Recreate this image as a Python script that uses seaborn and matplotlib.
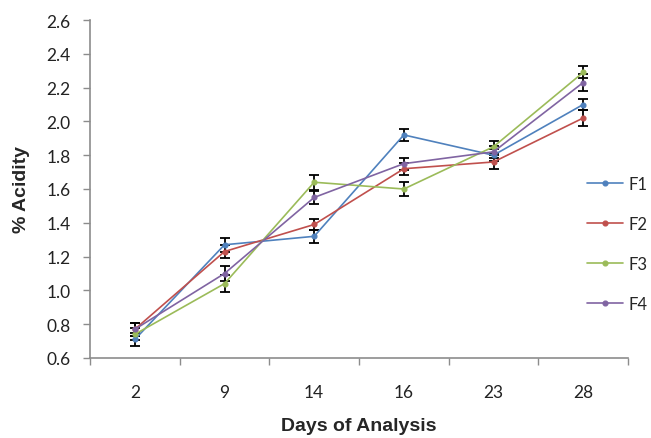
import matplotlib
matplotlib.use("Agg")
import matplotlib.pyplot as plt
import seaborn as sns
import pandas as pd
import numpy as np

days = [2, 9, 14, 16, 23, 28]
series_names = ["F1", "F2", "F3", "F4"]
f1 = [0.71, 1.27, 1.32, 1.92, 1.80, 2.10]
f2 = [0.77, 1.23, 1.39, 1.72, 1.76, 2.02]
f3 = [0.74, 1.04, 1.64, 1.60, 1.85, 2.29]
f4 = [0.77, 1.10, 1.55, 1.75, 1.82, 2.23]
e1 = [0.04, 0.04, 0.04, 0.035, 0.035, 0.035]
e2 = [0.04, 0.04, 0.035, 0.035, 0.04, 0.05]
e3 = [0.035, 0.05, 0.045, 0.04, 0.035, 0.035]
e4 = [0.04, 0.045, 0.04, 0.035, 0.035, 0.05]
yticks = [0.6, 0.8, 1.0, 1.2, 1.4, 1.6, 1.8, 2.0, 2.2, 2.4, 2.6]
colors = ["#4F81BD", "#C0504D", "#9BBB59", "#8064A2"]

values = [f1, f2, f3, f4]
errors = [e1, e2, e3, e4]
df = pd.DataFrame({
    "Day": [d for _ in series_names for d in days],
    "Acidity": [v for s in values for v in s],
    "Formulation": [n for n in series_names for _ in days],
})

sns.set_style("white")
plt.rcParams["font.family"] = ["Lato", "DejaVu Sans"]

fig = plt.figure(figsize=(6.51, 4.39), dpi=100)
ax = fig.add_axes([90 / 651, 1 - 359 / 439, 538 / 651, 338 / 439])

sns.pointplot(data=df, x="Day", y="Acidity", hue="Formulation",
              palette=colors, markers="o", markersize=3.5, linewidth=1.2,
              errorbar=None, ax=ax, order=days, hue_order=series_names)

for i, (vals, errs) in enumerate(zip(values, errors)):
    ax.errorbar(np.arange(len(days)), vals, yerr=errs, fmt="none",
                ecolor="black", elinewidth=1.3, capsize=3.5, capthick=1.3,
                zorder=1)

ax.set_xlim(-0.5, len(days) - 0.5)
ax.set_ylim(0.6, 2.6)
ax.set_yticks(yticks)
ax.set_yticklabels([f"{t:.1f}" for t in yticks])
ax.set_xticks(np.arange(len(days)))
ax.set_xticklabels([str(d) for d in days])
ax.set_xticks(np.arange(len(days) + 1) - 0.5, minor=True)

for s in ["top", "right"]:
    ax.spines[s].set_visible(False)
for s in ["left", "bottom"]:
    ax.spines[s].set_color("#8c8c8c")
    ax.spines[s].set_linewidth(1.2)

ax.tick_params(axis="y", which="major", direction="out", length=5, width=1,
               color="#8c8c8c", labelsize=12.5, pad=9, labelcolor="#222222", left=True)
ax.tick_params(axis="x", which="major", length=0, labelsize=12.5, pad=19,
               labelcolor="#222222")
ax.tick_params(axis="x", which="minor", direction="out", length=5, width=1,
               color="#8c8c8c", bottom=True)

ax.set_xlabel("Days of Analysis", fontsize=14, fontweight="bold",
              family=["Liberation Sans", "DejaVu Sans"], labelpad=12)
ax.set_ylabel("% Acidity", fontsize=14, fontweight="bold",
              family=["Liberation Sans", "DejaVu Sans"], labelpad=12)

handles, labels = ax.get_legend_handles_labels()
ax.legend(handles, labels, loc="center left", bbox_to_anchor=(580 / 651, 1 - 245 / 439),
          bbox_transform=fig.transFigure, frameon=False, fontsize=12,
          labelspacing=1.45, handlelength=2.2, handletextpad=0.3, borderaxespad=0)

ax.grid(False)
fig.savefig("out.png", dpi=100)
